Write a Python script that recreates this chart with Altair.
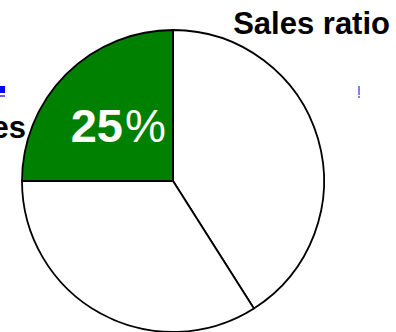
import altair as alt
import pandas as pd

categories = ["A", "B", "C"]
values = [41, 34, 25]
colors = ["#ffffff", "#ffffff", "#008000"]

df = pd.DataFrame({"cat": categories, "value": values, "order": [0, 1, 2]})

pie = alt.Chart(df).mark_arc(radius=151, stroke="black", strokeWidth=1.8).encode(
    theta=alt.Theta("value:Q", stack=True),
    order=alt.Order("order:Q"),
    color=alt.Color("cat:N", scale=alt.Scale(domain=categories, range=colors), legend=None),
    x=alt.value(173),
    y=alt.value(181),
)

one = pd.DataFrame({"k": [0]})
base = alt.Chart(one)

title = base.mark_text(text="Sales ratio", font="Liberation Sans", fontSize=31, fontWeight="bold",
                       align="right", baseline="alphabetic", color="black").encode(
    x=alt.value(390), y=alt.value(34))
label_es = base.mark_text(text="Sales", font="Liberation Sans", fontSize=31, fontWeight="bold",
                          align="right", baseline="alphabetic", color="black").encode(
    x=alt.value(26), y=alt.value(138))
pct25 = base.mark_text(text="25", font="Liberation Sans", fontSize=47, fontWeight="bold",
                       align="right", baseline="alphabetic", color="white").encode(
    x=alt.value(123), y=alt.value(142))
pctsign = base.mark_text(text="%", font="Liberation Sans", fontSize=46, fontWeight="normal",
                         align="left", baseline="alphabetic", color="white").encode(
    x=alt.value(125), y=alt.value(142))
blue1 = base.mark_rect(color="#0000ff").encode(x=alt.value(0), x2=alt.value(5), y=alt.value(86), y2=alt.value(93))
blue2 = base.mark_rect(color="#6060ff").encode(x=alt.value(0), x2=alt.value(5), y=alt.value(95), y2=alt.value(97))
purple1 = base.mark_rect(color="#8080ff").encode(x=alt.value(358), x2=alt.value(360), y=alt.value(86), y2=alt.value(95))
purple2 = base.mark_rect(color="#8080ff").encode(x=alt.value(358), x2=alt.value(360), y=alt.value(96), y2=alt.value(98))

chart = alt.layer(pie, title, label_es, pct25, pctsign, blue1, blue2, purple1, purple2).properties(
    width=396, height=332, autosize=alt.AutoSizeParams(type="none"), padding=0,
    background="white"
).configure_view(stroke=None)

chart.save("out.html", embed_options={"renderer": "svg", "actions": False})
